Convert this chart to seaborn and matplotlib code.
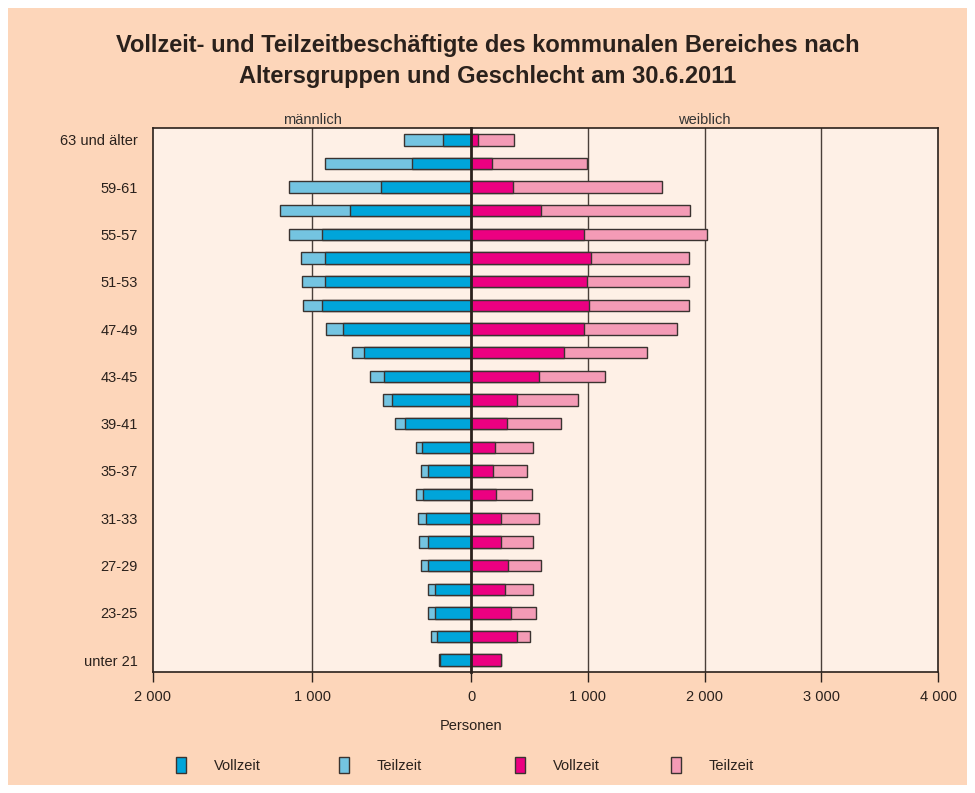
import numpy as np
import matplotlib
matplotlib.use("Agg")
import matplotlib.pyplot as plt
import seaborn as sns
from matplotlib.patches import Rectangle, Patch
from matplotlib.ticker import FuncFormatter

# age groups, top to bottom (only every other one is labelled in the chart)
age_groups = ["63 und älter", "62", "59-61", "58", "55-57", "54", "51-53", "50",
              "47-49", "46", "43-45", "42", "39-41", "38", "35-37", "34",
              "31-33", "30", "27-29", "26", "23-25", "21-22", "unter 21"]

# maennlich
m_vollzeit = [175, 371, 568, 758, 937, 920, 916, 935, 802, 671, 549, 494,
              418, 308, 268, 299, 283, 270, 268, 228, 226, 215, 196]
m_gesamt = [424, 916, 1146, 1203, 1146, 1072, 1065, 1055, 913, 751, 637, 551,
            479, 344, 312, 346, 333, 329, 315, 270, 270, 249, 203]

# weiblich
w_vollzeit = [63, 180, 362, 597, 965, 1025, 990, 1007, 965, 796, 582, 397,
              305, 208, 191, 214, 257, 257, 317, 294, 345, 397, 254]
w_gesamt = [368, 990, 1638, 1875, 2018, 1869, 1869, 1869, 1761, 1510, 1150, 919,
            768, 533, 477, 525, 585, 531, 597, 531, 559, 502, 260]

legend_labels = ["Vollzeit", "Teilzeit", "Vollzeit", "Teilzeit"]

c_m_voll = "#00a5da"
c_m_teil = "#74c4e1"
c_w_voll = "#ec0081"
c_w_teil = "#f49bb6"
bg = "#fdd6ba"
plot_bg = "#fef0e6"
dark = "#2a211c"
fs = 10.5

sns.set_theme(style="white")
plt.rcParams["font.family"] = ["Liberation Sans", "DejaVu Sans"]
plt.rcParams["text.color"] = dark

W, H = 975, 793
fig = plt.figure(figsize=(W / 100, H / 100), dpi=100, facecolor="white")
fig.patches.append(Rectangle((8 / W, 8 / H), 1 - 16 / W, 1 - 16 / H,
                             transform=fig.transFigure, facecolor=bg,
                             edgecolor="none", zorder=-10))

bottom = (H - 672) / H
height = 544 / H
axm = fig.add_axes([153 / W, bottom, 318 / W, height])
axw = fig.add_axes([471 / W, bottom, 467 / W, height])

bar_kw = dict(orient="h", width=0.48, saturation=1, edgecolor="#3a3330",
              linewidth=1.0, zorder=3)

# male side: total (teilzeit) underneath, vollzeit on top
sns.barplot(x=m_gesamt, y=age_groups, color=c_m_teil, ax=axm, **bar_kw)
sns.barplot(x=m_vollzeit, y=age_groups, color=c_m_voll, ax=axm, **bar_kw)
sns.barplot(x=w_gesamt, y=age_groups, color=c_w_teil, ax=axw, **bar_kw)
sns.barplot(x=w_vollzeit, y=age_groups, color=c_w_voll, ax=axw, **bar_kw)

fmt = FuncFormatter(lambda v, p: f"{int(v):,}".replace(",", " "))

axm.set_xlim(2000, 0)
axm.set_xticks([2000, 1000])
axw.set_xlim(0, 4000)
axw.set_xticks([0, 1000, 2000, 3000, 4000])

for ax in (axm, axw):
    ax.set_facecolor(plot_bg)
    ax.set_ylim(22.5, -0.5)
    ax.xaxis.set_major_formatter(fmt)
    ax.tick_params(axis="x", direction="out", length=7, width=1, color=dark,
                   labelsize=fs, labelcolor=dark, pad=6, bottom=True)
    ax.tick_params(axis="y", length=0)
    ax.set_xlabel("")
    ax.set_ylabel("")
    for s in ax.spines.values():
        s.set_color(dark)
        s.set_linewidth(1.2)

for v in [1000]:
    axm.axvline(v, color="#4a403a", lw=1.0, zorder=2)
for v in [1000, 2000, 3000]:
    axw.axvline(v, color="#4a403a", lw=1.0, zorder=2)

axm.spines["right"].set_visible(False)
axw.spines["left"].set_linewidth(2.0)
axw.spines["left"].set_zorder(5)

axm.set_yticks(range(len(age_groups)))
axm.set_yticklabels([g if i % 2 == 0 else "" for i, g in enumerate(age_groups)],
                    fontsize=fs, color=dark)
axm.tick_params(axis="y", pad=11)
axw.set_yticks([])

axm.set_title("männlich", fontsize=fs, color="#333333", pad=3)
axw.set_title("weiblich", fontsize=fs, color="#333333", pad=3)

fig.text(0.5, 1 - 61 / H,
         "Vollzeit- und Teilzeitbeschäftigte des kommunalen Bereiches nach\n"
         "Altersgruppen und Geschlecht am 30.6.2011",
         ha="center", va="center", fontsize=17, fontweight="bold",
         linespacing=1.4, color=dark)

fig.text(471 / W, 1 - 726 / H, "Personen", ha="center", va="center",
         fontsize=fs, color=dark)

legend_colors = [c_m_voll, c_m_teil, c_w_voll, c_w_teil]
legend_x = [176, 339, 515, 671]
for lab, col, x0 in zip(legend_labels, legend_colors, legend_x):
    h = Patch(facecolor=col, edgecolor="#3a3330", label=lab)
    fig.legend(handles=[h], loc="center left", bbox_to_anchor=(x0 / W, 1 - 765 / H),
               frameon=False, fontsize=fs, handlelength=0.7, handleheight=1.3,
               handletextpad=1.9, borderpad=0, borderaxespad=0)

fig.savefig("out.png", dpi=100, facecolor="white")
